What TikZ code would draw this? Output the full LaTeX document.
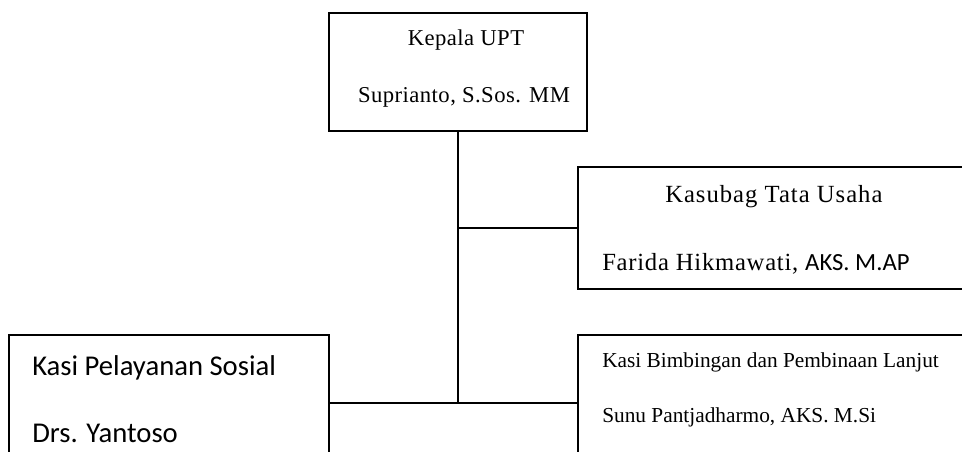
\documentclass[tikz,border=0pt]{standalone}
\usepackage{fontspec}
\setmainfont{Liberation Serif}
\newfontfamily\calibri{Carlito}
\usepackage{tikz}

\begin{document}
\begin{tikzpicture}[x=0.75pt,y=-0.75pt,
	box/.style={rectangle,draw,line width=1.2pt,outer sep=0pt,inner sep=0pt},
	txt/.style={inner sep=0pt,anchor=base west},
	line/.style={line width=1.2pt},
	]
	\useasboundingbox (0,0) rectangle (962,452);
	\clip (0,0) rectangle (962,452);
	% kotak
	\node[box,minimum width=193.5pt,minimum height=88.5pt] (kepala) at (458,72) {};
	\node[box,minimum width=316.5pt,minimum height=91.5pt] (tatausaha) at (789,228) {};
	\node[box,minimum width=240pt,minimum height=102pt] (pelayanan) at (169,403) {};
	\node[box,minimum width=316.5pt,minimum height=102pt] (bimbingan) at (789,403) {};
	% teks
	\node[txt,anchor=base,font=\fontsize{17}{20}\selectfont\addfontfeature{LetterSpace=2}] (kepalaA) at (466,46) {Kepala UPT};
	\node[txt,anchor=base,font=\fontsize{17}{20}\selectfont\addfontfeature{LetterSpace=2}] (kepalaB) at (464,103) {Suprianto, S.Sos. MM};
	\node[txt,font=\fontsize{18.5}{22}\selectfont\addfontfeature{LetterSpace=4}] (tatausahaA) at (665,203) {Kasubag Tata Usaha};
	\node[txt,font=\fontsize{18.5}{22}\selectfont\addfontfeature{LetterSpace=3}] (tatausahaB) at (602,270) {Farida Hikmawati, {\calibri AKS. M.AP}};
	\node[txt,font=\fontsize{16}{19}\selectfont] (bimbinganA) at (602,367) {Kasi Bimbingan dan Pembinaan Lanjut};
	\node[txt,font=\fontsize{16}{19}\selectfont] (bimbinganB) at (602,422) {Sunu Pantjadharmo, AKS. M.Si};
	\node[txt,font=\calibri\fontsize{21.5}{25}\selectfont] (pelayananA) at (32,375) {Kasi Pelayanan Sosial};
	\node[txt,font=\calibri\fontsize{21.5}{25}\selectfont] (pelayananB) at (32,442) {Drs. Yantoso};
	% garis
	\coordinate (trunk) at (kepala.south |- bimbingan.west);
	\draw[line] (kepala.south) -- (trunk);
	\draw[line] (kepala.south |- tatausaha.west) -- (tatausaha.west);
	\draw[line] (pelayanan.east) -- (bimbingan.west);
\end{tikzpicture}
\end{document}
